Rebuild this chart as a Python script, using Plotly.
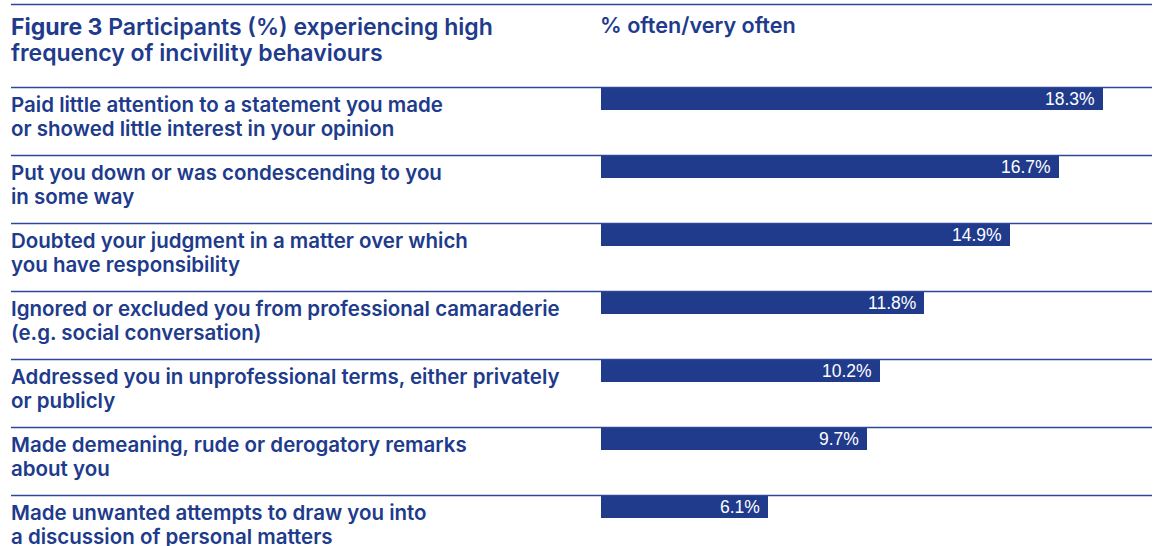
import plotly.graph_objects as go

# Incivility behaviours, top to bottom (each entry is the two-line label)
behaviours = [
    ["Paid little attention to a statement you made",
     "or showed little interest in your opinion"],
    ["Put you down or was condescending to you",
     "in some way"],
    ["Doubted your judgment in a matter over which",
     "you have responsibility"],
    ["Ignored or excluded you from professional camaraderie",
     "(e.g. social conversation)"],
    ["Addressed you in unprofessional terms, either privately",
     "or publicly"],
    ["Made demeaning, rude or derogatory remarks",
     "about you"],
    ["Made unwanted attempts to draw you into",
     "a discussion of personal matters"],
]
# % often/very often
pct_often = [18.3, 16.7, 14.9, 11.8, 10.2, 9.7, 6.1]

title_lines = ["<b>Figure 3</b> Participants (%) experiencing high",
               "frequency of incivility behaviours"]
column_header = "% often/very often"

NAVY = "#203a8c"
RULE = "#2f4795"
W, H = 1156, 546
LABEL_FONT = "Inter"
ROW_PX = 68          # height of one row in pixels
LINE_PX = 24         # spacing between label lines

rows = list(range(len(behaviours)))

fig = go.Figure()
fig.add_trace(go.Bar(
    x=pct_often,
    y=rows,
    orientation="h",
    width=22 / ROW_PX,
    offset=-0.5,
    marker=dict(color=NAVY, line=dict(width=0)),
    hoverinfo="skip",
    showlegend=False,
))

annotations = []
shapes = []

# value labels at the end of each bar
for i, v in enumerate(pct_often):
    annotations.append(dict(
        x=v, y=i - 0.5 + 11 / ROW_PX, xref="x", yref="y",
        text=f"{v:.1f}%", showarrow=False,
        xanchor="right", yanchor="middle", xshift=-6, yshift=-0.5,
        font=dict(family="Liberation Sans", size=17.5, color="white"),
    ))

# behaviour labels and row rules
for i, lines in enumerate(behaviours):
    for j, line in enumerate(lines):
        annotations.append(dict(
            x=9 / W, y=i - 0.5, xref="paper", yref="y",
            text=line, showarrow=False, align="left",
            xanchor="left", yanchor="middle",
            yshift=-(16.5 + LINE_PX * j),
            font=dict(family=LABEL_FONT, size=20.5, color=NAVY, weight=600),
        ))
    shapes.append(dict(
        type="line", xref="paper", yref="y",
        x0=11 / W, x1=1152 / W, y0=i - 0.5, y1=i - 0.5,
        line=dict(color=RULE, width=1.3),
    ))

# top rule
shapes.append(dict(
    type="line", xref="paper", yref="paper",
    x0=11 / W, x1=1152 / W, y0=1 - 4.5 / H, y1=1 - 4.5 / H,
    line=dict(color=RULE, width=1.3),
))

# title and column header
for j, line in enumerate(title_lines):
    annotations.append(dict(
        x=9 / W, y=1 - (27 + 26 * j) / H, xref="paper", yref="paper",
        text=line, showarrow=False, align="left",
        xanchor="left", yanchor="middle",
        font=dict(family=LABEL_FONT, size=23, color=NAVY, weight=600),
    ))
annotations.append(dict(
    x=598 / W, y=1 - 25 / H, xref="paper", yref="paper",
    text=column_header, showarrow=False, align="left",
    xanchor="left", yanchor="middle",
    font=dict(family=LABEL_FONT, size=21.6, color=NAVY, weight=600),
))

px_per_unit = 27.45
x0_px = 600.5
fig.update_layout(
    width=W, height=H,
    margin=dict(l=0, r=0, t=0, b=0),
    paper_bgcolor="white", plot_bgcolor="white",
    xaxis=dict(range=[-x0_px / px_per_unit, (W - x0_px) / px_per_unit],
               visible=False, fixedrange=True),
    yaxis=dict(range=[(H - 87.5) / ROW_PX - 0.5, -87.5 / ROW_PX - 0.5],
               visible=False, fixedrange=True),
    annotations=annotations,
    shapes=shapes,
    bargap=0,
)

fig.write_html("out.html", config={"displayModeBar": False})
